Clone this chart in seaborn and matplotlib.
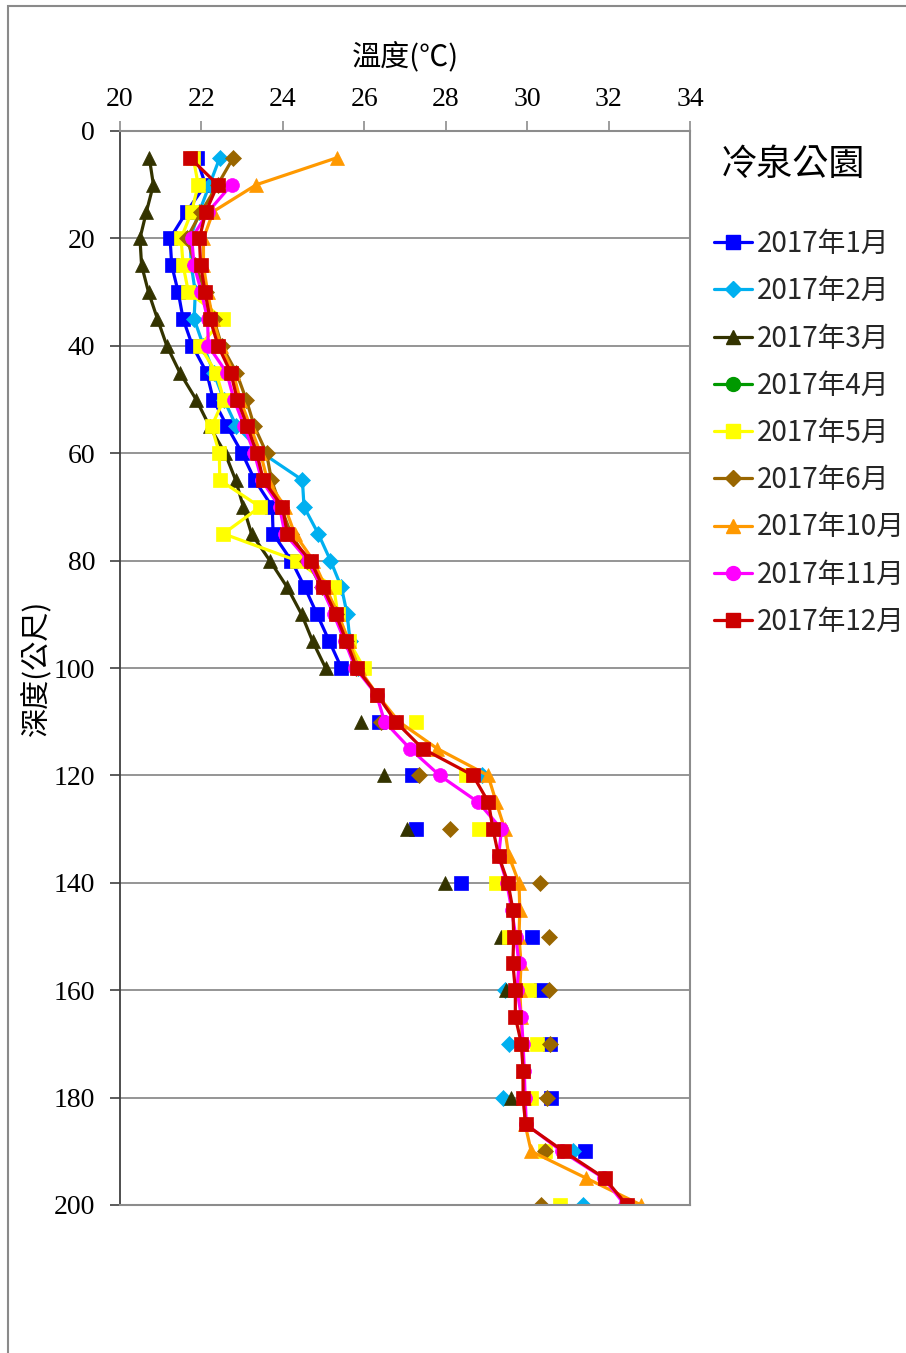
import numpy as np
import pandas as pd
import matplotlib
matplotlib.use("Agg")
import matplotlib.pyplot as plt
import seaborn as sns
from matplotlib.lines import Line2D
from matplotlib.patches import Rectangle

sns.set_theme(style="white")
plt.rcParams["font.family"] = ["Noto Sans CJK TC", "DejaVu Sans"]

nan = np.nan

# Depth of each reading (m)
depth = list(range(5, 205, 5))

# Water temperature (°C) for each month, one value per depth; nan = not measured
jan = [21.88, 22.10, 21.64, 21.23, 21.27, 21.43, 21.55, 21.78, 22.13, 22.29,
       22.63, 23.00, 23.31, 23.74, 23.76, 24.21, 24.54, 24.84, 25.14, 25.44,
       nan, 26.36, nan, 27.18, nan, 27.26, nan, 28.37, nan, 30.12,
       nan, 30.35, nan, 30.55, nan, 30.59, nan, 31.43, nan, nan]
feb = [22.45, 22.20, 21.95, 21.72, 21.75, 21.85, 21.82, 22.05, 22.30, 22.55,
       22.86, 23.50, 24.48, 24.52, 24.87, 25.17, 25.44, 25.58, 25.65, 25.85,
       nan, nan, nan, 28.90, nan, nan, nan, nan, nan, nan,
       nan, 29.45, nan, 29.55, nan, 29.41, nan, 31.12, nan, 31.37]
mar = [20.72, 20.82, 20.65, 20.49, 20.53, 20.70, 20.92, 21.15, 21.47, 21.87,
       22.20, 22.58, 22.84, 23.03, 23.23, 23.68, 24.11, 24.46, 24.73, 25.05,
       nan, 25.93, nan, 26.48, nan, 27.04, nan, 27.98, nan, 29.36,
       nan, 29.49, nan, nan, nan, 29.61, nan, nan, nan, nan]
apr = [nan] * 40
may = [21.80, 21.92, 21.76, 21.50, 21.55, 21.68, 22.54, 21.96, 22.36, 22.55,
       22.25, 22.44, 22.45, 23.44, 22.54, 24.34, 25.25, 25.35, 25.62, 25.99,
       nan, 27.28, nan, 28.50, nan, 28.81, nan, 29.24, nan, 29.55,
       nan, 30.05, nan, 30.24, nan, 30.10, nan, 30.45, nan, 30.80]
jun = [22.78, 22.40, 22.00, 21.64, 21.85, 22.10, 22.30, 22.50, 22.86, 23.10,
       23.30, 23.60, 23.72, 23.95, 24.20, 24.60, 24.95, 25.30, 25.55, 25.80,
       nan, 26.40, nan, 27.35, nan, 28.10, nan, 30.31, nan, 30.54,
       nan, 30.54, nan, 30.55, nan, 30.49, nan, 30.43, nan, 30.35]
oct_ = [25.32, 23.35, 22.29, 22.05, 22.05, 22.15, 22.28, 22.48, 22.78, 22.95,
        23.20, 23.45, 23.62, 24.05, 24.29, 24.75, 25.05, 25.36, 25.62, 25.86,
        26.32, 26.85, 27.79, 29.04, 29.24, 29.45, 29.55, 29.80, 29.82, 29.80,
        29.85, 29.82, 29.85, 29.87, 29.90, 29.92, 29.95, 30.10, 31.45, 32.80]
nov = [nan, 22.74, 22.17, 21.76, 21.82, 22.00, 22.15, 22.17, 22.62, 22.80,
       23.05, 23.30, 23.48, 23.92, 24.05, 24.62, 24.95, 25.25, 25.52, 25.78,
       26.30, 26.50, 27.12, 27.85, 28.80, 29.37, 29.30, 29.50, 29.62, 29.72,
       29.80, 29.75, 29.86, 29.90, 29.93, 29.95, 29.98, 30.85, 31.88, 32.40]
dec = [21.72, 22.40, 22.11, 21.95, 21.98, 22.09, 22.21, 22.41, 22.72, 22.88,
       23.13, 23.36, 23.52, 23.99, 24.11, 24.68, 24.99, 25.30, 25.56, 25.81,
       26.32, 26.77, 27.43, 28.67, 29.05, 29.16, 29.30, 29.53, 29.65, 29.67,
       29.65, 29.71, 29.71, 29.86, 29.90, 29.90, 29.96, 30.90, 31.90, 32.45]

labels = ["2017年1月", "2017年2月", "2017年3月", "2017年4月", "2017年5月",
          "2017年6月", "2017年10月", "2017年11月", "2017年12月"]
series = [jan, feb, mar, apr, may, jun, oct_, nov, dec]
colors = ["#0000FF", "#00B0F0", "#333300", "#009900", "#FFFF00",
          "#996600", "#FF9900", "#FF00FF", "#CC0000"]
markers = ["s", "D", "^", "o", "s", "D", "^", "o", "s"]
msizes = [10, 8.5, 10, 10, 10, 8.5, 10, 10, 10]

fig = plt.figure(figsize=(9.06, 13.53), dpi=100)
W, H = 906, 1353
ax = fig.add_axes([120 / W, 1 - 1205 / H, 570 / W, 1074 / H])

# outer frame of the chart area
fig.patches.append(Rectangle((8 / W, -0.1), 1.2, 1 - 6 / H + 0.1,
                             transform=fig.transFigure, fill=False,
                             edgecolor="#8a8a8a", linewidth=1.5, zorder=0))

for vals, col, mk, ms in zip(series, colors, markers, msizes):
    df = pd.DataFrame({"depth": depth, "temp": vals})
    # a new line segment starts after every missing reading
    df["seg"] = df["temp"].isna().cumsum()
    df = df.dropna()
    if df.empty:
        continue
    sns.lineplot(data=df, x="temp", y="depth", units="seg", estimator=None,
                 sort=False, color=col, marker=mk, markersize=ms,
                 markeredgecolor=col, markeredgewidth=0.5, linewidth=2.3,
                 ax=ax, legend=False)

ax.set_xlim(20, 34)
ax.set_ylim(200, 0)
ax.set_xticks(np.arange(20, 35, 2))
ax.set_yticks(np.arange(0, 201, 20))
ax.xaxis.tick_top()
ax.set_xlabel("")
ax.set_ylabel("")
ax.yaxis.grid(True, color="#8c8c8c", linewidth=1.3)
ax.xaxis.grid(False)
for lab in ax.get_xticklabels() + ax.get_yticklabels():
    lab.set_family("Liberation Serif")
    lab.set_fontsize(20)
    lab.set_color("black")
ax.tick_params(axis="x", direction="out", length=7, width=1.2, color="#8c8c8c",
               pad=7, top=True, bottom=False)
ax.tick_params(axis="y", direction="out", length=7, width=1.2, color="#404040",
               pad=11, left=True)
ax.spines["left"].set_color("#404040")
ax.spines["left"].set_linewidth(1.3)
for s in ["top", "right", "bottom"]:
    ax.spines[s].set_color("#8c8c8c")
    ax.spines[s].set_linewidth(1.5)

fig.text(405 / W, 1 - 57 / H, "溫度(℃)", ha="center", va="center",
         fontsize=21, color="black")
fig.text(36 / W, 1 - 668 / H, "深度(公尺)", ha="center", va="center",
         rotation=90, fontsize=21, color="black")
fig.text(721 / W, 1 - 165 / H, "冷泉公園", ha="left", va="center",
         fontsize=26, color="black")

handles = [Line2D([], [], color=c, marker=m, markersize=ms, markeredgecolor=c,
                  linewidth=2.3) for c, m, ms in zip(colors, markers, msizes)]
fig.legend(handles, labels, loc="upper left",
           bbox_to_anchor=(714 / W, 1 - 229 / H), frameon=False,
           fontsize=20, handlelength=1.35, handletextpad=0.2,
           labelspacing=0.62, borderaxespad=0, borderpad=0)

fig.savefig("out.png", dpi=100, facecolor="white")
